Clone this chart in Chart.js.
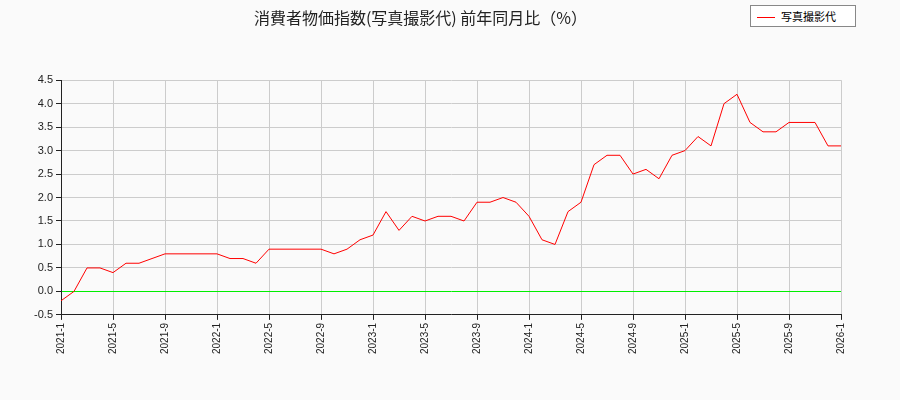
<!DOCTYPE html>
<html><head><meta charset="utf-8">
<script src="https://cdn.jsdelivr.net/npm/chart.js@4"></script>
<style>
body{margin:0;background:#fafafa;font-family:"Noto Sans CJK JP",sans-serif;}
#wrap{position:relative;width:900px;height:400px;}
#legend{position:absolute;left:750px;top:5px;width:106px;height:22px;border:1px solid #888;background:#fff;font-size:11px;line-height:21px;box-sizing:border-box;}
#legend span{display:inline-block;width:18px;height:1px;background:red;vertical-align:middle;margin:0 6px 2px 6px;}
</style></head><body>
<div id="wrap"><canvas id="c" width="900" height="400"></canvas>
<div id="legend"><span></span>写真撮影代</div></div>
<script>
const title = '消費者物価指数(写真撮影代) 前年同月比（%）';
const seriesName = '写真撮影代';
const months = [];
for (let y = 2021; y <= 2026; y++) for (let m = 1; m <= 12; m++) if (y < 2026 || m === 1) months.push(y + '-' + m);
const values = [
  -0.2,0.0,0.5,0.5,0.4,0.6,0.6,0.7,0.8,0.8,0.8,0.8,
  0.8,0.7,0.7,0.6,0.9,0.9,0.9,0.9,0.9,0.8,0.9,1.1,
  1.2,1.7,1.3,1.6,1.5,1.6,1.6,1.5,1.9,1.9,2.0,1.9,
  1.6,1.1,1.0,1.7,1.9,2.7,2.9,2.9,2.5,2.6,2.4,2.9,
  3.0,3.3,3.1,4.0,4.2,3.6,3.4,3.4,3.6,3.6,3.6,3.1,
  3.1
];
const yTicks = [-0.5,0.0,0.5,1.0,1.5,2.0,2.5,3.0,3.5,4.0,4.5];

new Chart(document.getElementById('c'), {
  type: 'line',
  data: {
    datasets: [{
      label: seriesName,
      data: values.map((v, i) => ({x: i, y: v})),
      borderColor: 'red', borderWidth: 1, pointRadius: 0, tension: 0
    }]
  },
  options: {
    responsive: false, animation: false,
    layout: {padding: {left: 0, right: 59, top: 0, bottom: 43}},
    plugins: {
      legend: {display: false},
      title: {display: true, text: title, color: '#222', font: {size: 16, family: '"Noto Sans CJK JP"', weight: 'normal'}, padding: {top: 8, bottom: 53}}
    },
    scales: {
      x: {
        type: 'linear', min: 0, max: months.length - 1,
        ticks: {stepSize: 4, autoSkip: false, maxRotation: 90, minRotation: 90, color: '#222', font: {size: 10},
          callback: v => months[v]},
        grid: {color: '#ccc', tickLength: 5, tickColor: '#222'},
        border: {color: '#222'}
      },
      y: {
        min: -0.5, max: 4.5,
        afterBuildTicks: a => { a.ticks = yTicks.map(v => ({value: v})); },
        afterFit: a => { a.width = 61; },
        ticks: {color: '#222', font: {size: 11}, callback: v => v.toFixed(1)},
        grid: {color: c => c.index === 1 ? '#00ee00' : '#ccc', tickLength: 5, tickColor: '#222'},
        border: {color: '#222'}
      }
    }
  }
});
</script></body></html>
